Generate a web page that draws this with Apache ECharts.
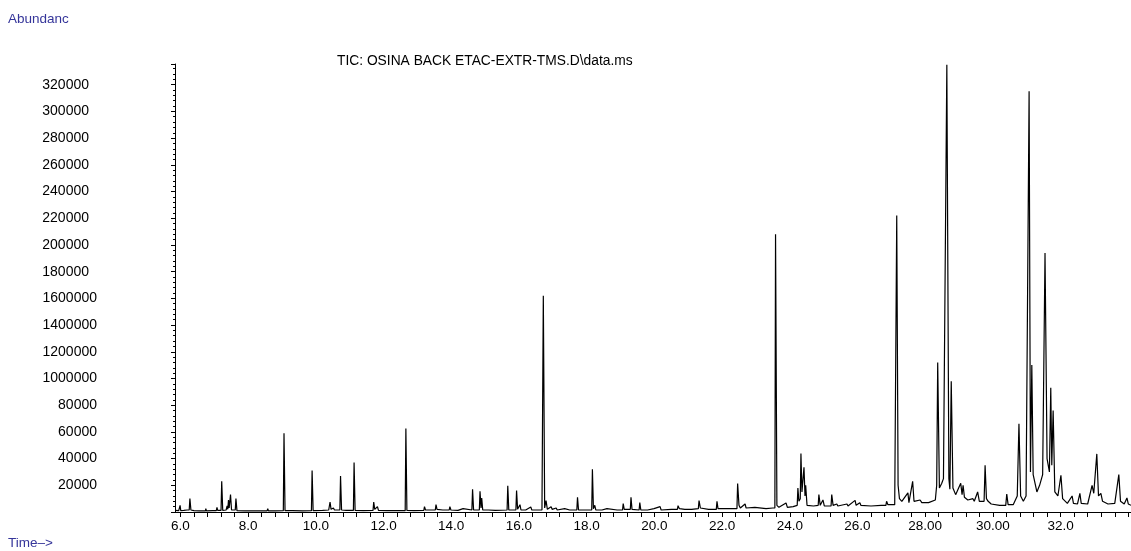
<!DOCTYPE html>
<html>
<head>
<meta charset="utf-8">
<script src="https://cdn.jsdelivr.net/npm/echarts@6/dist/echarts.min.js"></script>
<style>
html,body{margin:0;padding:0;background:#fff;}
#chart{width:1131px;height:551px;}
</style>
</head>
<body>
<div id="chart"></div>
<script>
// ---- data ----
const chartTitle = 'TIC: OSINA BACK ETAC-EXTR-TMS.D\\data.ms';
const yAxisName = 'Abundanc';
const xAxisName = 'Time\u2013>';

const xLabelValues = [6, 8, 10, 12, 14, 16, 18, 20, 22, 24, 26, 28, 30, 32];
const xLabels = ['6.0', '8.0', '10.0', '12.0', '14.0', '16.0', '18.0', '20.0', '22.0', '24.0', '26.0', '28.00', '30.00', '32.0'];

const yLabelValues = [20000, 40000, 60000, 80000, 100000, 120000, 140000, 160000, 180000, 200000, 220000, 240000, 260000, 280000, 300000, 320000];
const yLabels = ['20000', '40000', '60000', '80000', '1000000', '1200000', '1400000', '1600000', '180000', '200000', '220000', '240000', '260000', '280000', '300000', '320000'];

// total ion chromatogram trace: [retention time (min), abundance]
const tic = [
  [5.84, 1200], [5.95, 1000], [5.97, 1000], [5.99, 5000], [6.01, 1000], [6.10, 1200], [6.20, 1500], [6.26, 1500],
  [6.28, 10000], [6.31, 1500], [6.40, 1000], [6.55, 800], [6.74, 800], [6.75, 2500], [6.77, 800], [6.95, 1000],
  [7.06, 1000], [7.08, 3500], [7.10, 1200], [7.20, 1200], [7.22, 23000], [7.25, 1200], [7.35, 1500], [7.38, 4500],
  [7.40, 2000], [7.42, 9000], [7.44, 3000], [7.48, 13000], [7.51, 1500], [7.62, 1500], [7.64, 10000], [7.67, 1000],
  [7.90, 800], [8.20, 800], [8.56, 800], [8.58, 2500], [8.60, 800], [8.80, 800], [9.04, 1000], [9.06, 59000],
  [9.09, 1000], [9.30, 1000], [9.60, 800], [9.87, 1000], [9.89, 31000], [9.92, 1000], [10.20, 1200], [10.38, 1500],
  [10.42, 7500], [10.45, 2000], [10.52, 3000], [10.55, 1500], [10.71, 1500], [10.73, 27000], [10.76, 1500], [10.90, 1200],
  [11.11, 1200], [11.13, 37000], [11.16, 1200], [11.40, 1000], [11.69, 1200], [11.71, 7500], [11.74, 2000], [11.82, 4000],
  [11.85, 1200], [12.10, 1000], [12.40, 1000], [12.64, 1000], [12.66, 62500], [12.69, 1200], [12.90, 1000], [13.19, 1200],
  [13.21, 4000], [13.24, 1500], [13.40, 1500], [13.53, 1500], [13.55, 5500], [13.58, 2000], [13.75, 1500], [13.94, 1500],
  [13.96, 4000], [13.99, 1500], [14.20, 1200], [14.35, 2500], [14.37, 1200], [14.61, 1500], [14.63, 17000], [14.66, 1500],
  [14.83, 1500], [14.85, 15500], [14.88, 3000], [14.90, 10500], [14.93, 1500], [15.10, 1500], [15.30, 1200], [15.65, 1500],
  [15.67, 19700], [15.70, 1500], [15.91, 1500], [15.93, 16000], [15.96, 2000], [16.03, 5500], [16.06, 1500], [16.20, 1500],
  [16.35, 3700], [16.38, 1500], [16.68, 1500], [16.72, 162000], [16.76, 3000], [16.80, 8500], [16.84, 2000], [16.95, 4000],
  [16.98, 2000], [17.10, 3000], [17.13, 1500], [17.35, 2500], [17.50, 1500], [17.71, 1500], [17.73, 11000], [17.76, 1500],
  [18.00, 1500], [18.15, 1500], [18.17, 32000], [18.20, 2500], [18.24, 5000], [18.27, 1500], [18.45, 1500], [18.60, 2500],
  [18.63, 1500], [18.90, 1500], [19.06, 1500], [19.08, 6250], [19.11, 2000], [19.29, 2000], [19.31, 11000], [19.34, 2000],
  [19.55, 1500], [19.57, 7000], [19.60, 1500], [19.80, 1500], [19.99, 2500], [20.02, 1500], [20.17, 4000], [20.20, 1500],
  [20.50, 2000], [20.68, 2000], [20.70, 4700], [20.74, 2500], [20.90, 2000], [21.10, 2000], [21.30, 2500], [21.32, 8500],
  [21.36, 3000], [21.60, 2000], [21.83, 2000], [21.85, 8000], [21.88, 2500], [22.10, 2500], [22.30, 2500], [22.44, 2500],
  [22.46, 21250], [22.50, 5000], [22.54, 3000], [22.68, 6000], [22.71, 3000], [22.97, 3500], [23.00, 2500], [23.30, 2500],
  [23.50, 3000], [23.56, 3000], [23.58, 208000], [23.62, 5000], [23.68, 3500], [23.89, 6700], [23.93, 3500], [24.10, 4000],
  [24.22, 5000], [24.24, 18000], [24.27, 8000], [24.31, 10000], [24.33, 43750], [24.36, 15000], [24.42, 33500], [24.45, 12000],
  [24.47, 20000], [24.51, 5000], [24.70, 4500], [24.84, 5000], [24.86, 13000], [24.90, 5000], [24.98, 9000], [25.02, 4500],
  [25.22, 4500], [25.24, 13000], [25.28, 5000], [25.39, 6000], [25.42, 4500], [25.69, 6000], [25.72, 4500], [25.93, 8700],
  [25.96, 5000], [26.07, 7000], [26.10, 5000], [26.40, 4500], [26.70, 5000], [26.84, 5000], [26.86, 8000], [26.90, 5500],
  [27.10, 5500], [27.13, 6000], [27.16, 222000], [27.20, 20000], [27.24, 10000], [27.31, 8000], [27.35, 7000], [27.49, 14300],
  [27.52, 7000], [27.63, 23000], [27.67, 8000], [27.85, 9000], [27.90, 7000], [27.94, 7000], [28.10, 7000], [28.30, 9000],
  [28.34, 20000], [28.37, 112000], [28.42, 18000], [28.49, 21500], [28.54, 25000], [28.64, 335000], [28.70, 25000], [28.73, 17000],
  [28.77, 98000], [28.82, 18000], [28.90, 13000], [29.05, 21500], [29.09, 13000], [29.12, 20000], [29.16, 11000], [29.21, 12000],
  [29.26, 9000], [29.41, 10000], [29.45, 8000], [29.55, 15000], [29.60, 8000], [29.74, 8000], [29.77, 35000], [29.81, 10000],
  [29.86, 8000], [29.95, 6000], [30.20, 5000], [30.38, 5000], [30.41, 13500], [30.45, 5500], [30.60, 5500], [30.72, 12000],
  [30.77, 66000], [30.82, 12000], [30.90, 8000], [30.98, 12000], [31.07, 315000], [31.11, 30000], [31.15, 110000], [31.19, 28000],
  [31.30, 15000], [31.38, 20000], [31.47, 28000], [31.54, 194000], [31.60, 40000], [31.67, 30000], [31.71, 93000], [31.74, 35000],
  [31.78, 76000], [31.83, 15000], [31.92, 12000], [32.01, 27500], [32.06, 10000], [32.20, 6500], [32.34, 12000], [32.38, 6500],
  [32.50, 6000], [32.57, 14000], [32.61, 6500], [32.80, 6000], [32.93, 20000], [32.98, 14000], [33.07, 43500], [33.12, 12000],
  [33.19, 14000], [33.24, 8000], [33.40, 6000], [33.60, 6500], [33.72, 28000], [33.77, 8000], [33.88, 6000], [33.96, 10500],
  [34.00, 6000], [34.08, 5000]
];

// ---- chart ----
const X_MIN = 5.84, X_MAX = 34.08, Y_MAX = 335500;
const FONT = '"Liberation Sans", Arial, Helvetica, sans-serif';

const minorTicks = [];
for (let v = 6.0; v <= X_MAX + 1e-9; v += 0.4) minorTicks.push(Math.round(v * 100) / 100);

const chart = echarts.init(document.getElementById('chart'), null, { renderer: 'canvas' });
chart.setOption({
  animation: false,
  backgroundColor: '#ffffff',
  grid: { left: 175, right: 0, top: 64, bottom: 39, containLabel: false, outerBoundsMode: 'none' },
  graphic: [
    { type: 'text', left: 8, top: 12, style: { text: yAxisName, font: '13.5px ' + FONT, fill: '#35359a' } },
    { type: 'text', left: 8, top: 536, style: { text: xAxisName, font: '13.5px ' + FONT, fill: '#35359a' } },
    { type: 'text', left: 337, top: 54, style: { text: chartTitle, font: '13.8px ' + FONT, fill: '#000' } }
  ],
  xAxis: [{
    type: 'value', min: X_MIN, max: X_MAX,
    axisLine: { show: true, onZero: false, lineStyle: { color: '#000', width: 1 } },
    axisTick: { show: true, customValues: minorTicks, length: 5, lineStyle: { color: '#000', width: 1 } },
    splitLine: { show: false },
    axisLabel: {
      customValues: xLabelValues, margin: 7,
      fontFamily: FONT, fontSize: 13.5, color: '#000',
      formatter: function (v) {
        const i = xLabelValues.findIndex(function (x) { return Math.abs(x - v) < 1e-6; });
        return i >= 0 ? xLabels[i] : '';
      }
    }
  }],
  yAxis: [{
    type: 'value', min: 0, max: Y_MAX, interval: 20000,
    axisLine: { show: true, onZero: false, lineStyle: { color: '#000', width: 1 } },
    axisTick: { show: true, length: 4, lineStyle: { color: '#000', width: 1 } },
    minorTick: { show: true, splitNumber: 5, length: 2, lineStyle: { color: '#000', width: 1 } },
    splitLine: { show: false },
    minorSplitLine: { show: false },
    axisLabel: {
      margin: 78, fontFamily: FONT, fontSize: 14, color: '#000',
      formatter: function (v) {
        const i = yLabelValues.indexOf(v);
        if (i < 0) return '';
        const s = yLabels[i];
        return s.length === 6 ? '{s|' + s + '}' : '{n|' + s + '}';
      },
      rich: {
        s: { fontFamily: FONT, fontSize: 14, color: '#000', padding: [0, 8, 0, 0] },
        n: { fontFamily: FONT, fontSize: 14, color: '#000' }
      }
    }
  }],
  series: [{
    type: 'line', data: tic, symbol: 'none', smooth: false,
    lineStyle: { color: '#000', width: 1.2 },
    clip: true
  }]
});
</script>
</body>
</html>
